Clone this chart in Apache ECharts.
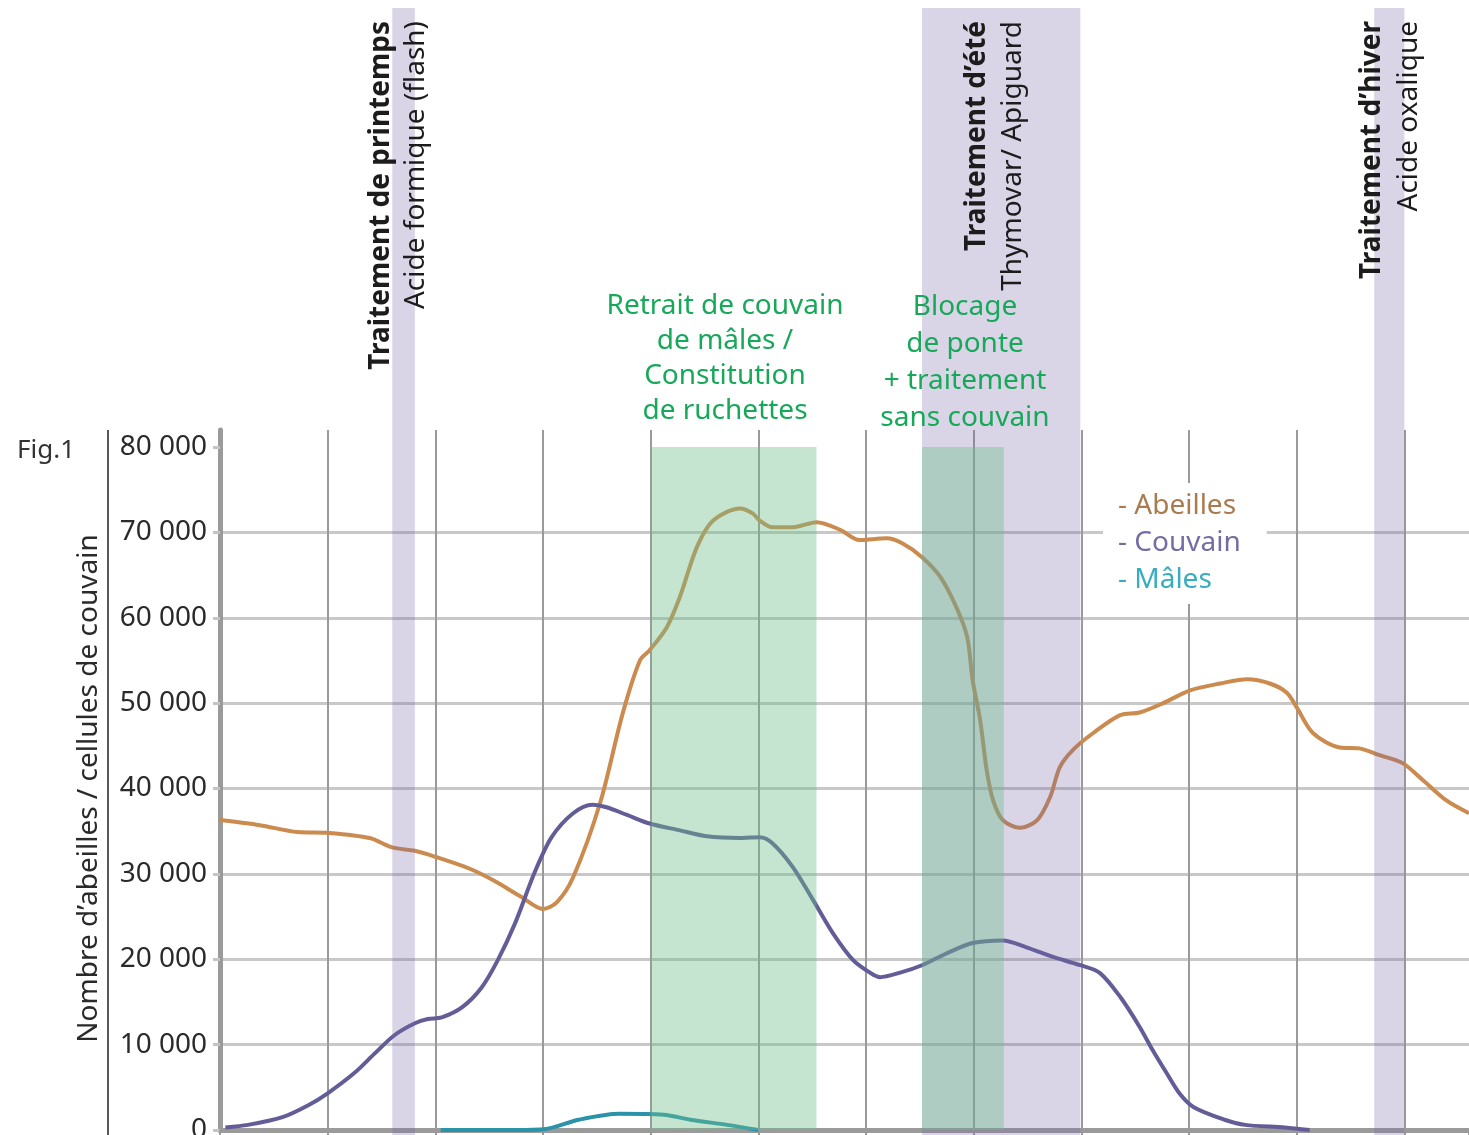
<!DOCTYPE html>
<html>
<head>
<meta charset="utf-8">
<script src="https://cdn.jsdelivr.net/npm/echarts@6/dist/echarts.min.js"></script>
<style>
html,body{margin:0;padding:0;background:#fff;}
#chart{width:1469px;height:1135px;}
</style>
</head>
<body>
<div id="chart"></div>
<script>
// ---------- DATA ----------
// x = position along the season (one unit = one vertical grid division)
const abeillesMois = [0.00,0.37,0.72,1.01,1.39,1.60,1.81,2.00,2.32,2.53,2.80,3.00,3.13,3.28,3.53,3.74,3.90,3.99,4.15,4.27,4.43,4.58,4.83,4.95,5.01,5.13,5.32,5.54,5.76,5.94,6.19,6.34,6.52,6.69,6.84,6.94,6.99,7.06,7.12,7.18,7.27,7.43,7.59,7.71,7.80,7.92,8.11,8.36,8.54,8.76,9.01,9.29,9.54,9.75,9.91,10.00,10.15,10.40,10.58,10.77,10.98,11.17,11.39,11.60];
const abeillesNombre = [36300,35700,34900,34800,34200,33100,32700,32000,30600,29300,27300,25900,26700,29600,38300,48800,55000,56200,58900,62400,68300,71400,72800,72200,71400,70600,70600,71200,70300,69100,69300,68700,67100,64800,61200,57700,52700,48000,42200,38600,36300,35400,36300,39000,42500,44500,46500,48600,48900,50000,51500,52300,52800,52300,51200,49500,46500,44800,44700,43900,43000,41000,38600,37100];

const couvainMois = [0.05,0.26,0.58,0.82,1.00,1.25,1.44,1.62,1.81,1.93,2.06,2.25,2.43,2.58,2.74,2.92,3.08,3.28,3.46,3.59,3.78,3.99,4.27,4.52,4.83,5.01,5.13,5.32,5.51,5.69,5.88,6.04,6.13,6.31,6.52,6.75,6.99,7.27,7.49,7.73,7.99,8.17,8.36,8.54,8.66,8.79,8.91,9.04,9.33,9.52,9.89,10.12];
const couvainNombre = [300,600,1500,2900,4300,6700,9000,11100,12500,13000,13200,14400,16700,19900,24200,30100,34300,37100,38100,37800,36900,35900,35100,34400,34200,34300,33600,30800,26900,23100,19900,18400,17900,18400,19300,20700,21900,22200,21400,20300,19300,18400,15600,12100,9400,6700,4300,2700,1200,600,300,0];

const malesMois = [2.05,2.60,3.01,3.33,3.71,4.12,4.37,4.71,5.00];
const malesNombre = [0,0,100,1200,1900,1800,1200,600,0];

const yMin = 0, yMax = 80000, yStep = 10000;
const xMin = 0, xMax = 11.6, xStep = 1;

const bandesTraitement = [[1.60,1.81],[6.52,7.99],[10.72,11.00]];
const bandesActions = [[4.00,5.54],[6.52,7.28]];

const seriesNoms = ['Abeilles','Couvain','Mâles'];
const traitementsTitres = ['Traitement de printemps','Traitement d\u2019été','Traitement d\u2019hiver'];
const traitementsProduits = ['Acide formique (flash)','Thymovar/ Apiguard','Acide oxalique'];
const actionsTextes = ['Retrait de couvain\nde mâles /\nConstitution\nde ruchettes','Blocage\nde ponte\n+ traitement\nsans couvain'];
const titreAxeY = 'Nombre d\u2019abeilles / cellules de couvain';
const figureLabel = 'Fig.1';

// ---------- STYLE ----------
const FONT = '"Noto Sans", "Open Sans", sans-serif';
const lineColors = ['#CB8A4E','#625D97','#2B93A7'];
const legendColors = ['#A97B4F','#766CA4','#37ADBF'];
const green = '#17A85A';

const zip = (xs, ys) => xs.map((x, i) => [x, ys[i]]);
const fmt = v => String(v).replace(/\B(?=(\d{3})+(?!\d))/g, ' ');

const chart = echarts.init(document.getElementById('chart'), null, {renderer: 'canvas'});

// rotated treatment labels (pixel layout)
const rotLabels = [
  {x: 381, text: traitementsTitres[0], bold: true},
  {x: 416, text: traitementsProduits[0], bold: false},
  {x: 977, text: traitementsTitres[1], bold: true},
  {x: 1013, text: traitementsProduits[1], bold: false},
  {x: 1372, text: traitementsTitres[2], bold: true},
  {x: 1409, text: traitementsProduits[2], bold: false}
];

const graphics = rotLabels.map(l => ({
  type: 'text', x: l.x, y: 21, rotation: Math.PI / 2, z: 100,
  style: {
    text: l.text, fill: '#1c1c1c',
    font: (l.bold ? 'bold ' : '') + '28px ' + FONT,
    textAlign: 'right', align: 'right', textVerticalAlign: 'middle', verticalAlign: 'middle'
  }
}));
graphics.push({
  type: 'text', x: 725, y: 359, z: 100,
  style: {text: actionsTextes[0], fill: green, font: '28px ' + FONT, lineHeight: 35,
    textAlign: 'center', align: 'center', textVerticalAlign: 'middle', verticalAlign: 'middle'}
});
graphics.push({
  type: 'text', x: 965, y: 363, z: 100,
  style: {text: actionsTextes[1], fill: green, font: '28px ' + FONT, lineHeight: 37,
    textAlign: 'center', align: 'center', textVerticalAlign: 'middle', verticalAlign: 'middle'}
});
graphics.push({
  type: 'text', x: 17, y: 451, z: 100,
  style: {text: figureLabel, fill: '#333', font: '26px ' + FONT,
    textAlign: 'left', align: 'left', textVerticalAlign: 'middle', verticalAlign: 'middle'}
});
graphics.push({
  type: 'line', z: 100,
  shape: {x1: 108, y1: 430, x2: 108, y2: 1135},
  style: {stroke: '#222', lineWidth: 1.5}
});

const curveSeries = [
  zip(abeillesMois, abeillesNombre),
  zip(couvainMois, couvainNombre),
  zip(malesMois, malesNombre)
].map((d, i) => ({
  name: seriesNoms[i], type: 'line', xAxisIndex: 0, yAxisIndex: 0,
  data: d, smooth: 0.3, symbol: 'none', showSymbol: false, z: 3,
  lineStyle: {color: lineColors[i], width: 4},
  itemStyle: {color: lineColors[i]}
}));

const option = {
  animation: false,
  backgroundColor: '#fff',
  grid: [
    {left: 220, right: 0, top: 447, bottom: 5, outerBoundsMode: 'none', containLabel: false},
    {left: 220, right: 0, top: 430, bottom: 5, outerBoundsMode: 'none', containLabel: false},
    {left: 220, right: 0, top: 8, bottom: 0, outerBoundsMode: 'none', containLabel: false}
  ],
  xAxis: [
    {gridIndex: 0, type: 'value', min: xMin, max: xMax, interval: xStep, show: false},
    {gridIndex: 1, type: 'value', min: xMin, max: xMax, interval: xStep,
      axisLine: {show: true, onZero: false, lineStyle: {color: '#9a9a9a', width: 5}},
      axisTick: {show: true, length: 6, lineStyle: {color: '#9a9a9a', width: 2}},
      axisLabel: {show: false},
      splitLine: {show: true, showMinLine: false, showMaxLine: false, lineStyle: {color: '#9a9a9a', width: 2}}},
    {gridIndex: 2, type: 'value', min: xMin, max: xMax, show: false}
  ],
  yAxis: [
    {gridIndex: 0, type: 'value', min: yMin, max: yMax, interval: yStep,
      axisLine: {show: false},
      axisTick: {show: true, length: 7, lineStyle: {color: '#c4c4c4', width: 3}},
      axisLabel: {fontFamily: FONT, fontSize: 28, color: '#2a2a2a', margin: 13, formatter: fmt},
      splitLine: {show: true, showMinLine: false, showMaxLine: false, lineStyle: {color: '#c8c8c8', width: 3}},
      name: titreAxeY, nameLocation: 'middle', nameRotate: 90, nameGap: 117,
      nameTextStyle: {fontFamily: FONT, fontSize: 28, color: '#2a2a2a'}},
    {gridIndex: 1, type: 'value', min: 0, max: 1,
      axisLine: {show: true, onZero: false, lineStyle: {color: '#9a9a9a', width: 5}},
      axisTick: {show: false}, axisLabel: {show: false}, splitLine: {show: false}},
    {gridIndex: 2, type: 'value', min: 0, max: 1, show: false}
  ],
  legend: {
    orient: 'vertical', left: 1103, top: 483,
    padding: [9, 26, 10, 10], itemGap: 9, itemWidth: 0, itemHeight: 0,
    icon: 'none', backgroundColor: '#fff', selectedMode: false,
    formatter: n => '- ' + n,
    textStyle: {fontFamily: FONT, fontSize: 28},
    data: seriesNoms.map((n, i) => ({name: n, icon: 'none', textStyle: {color: legendColors[i]}}))
  },
  graphic: graphics,
  series: curveSeries.concat([
    {name: 'bandesTraitement', type: 'line', xAxisIndex: 2, yAxisIndex: 2, data: [], z: 5,
      markArea: {silent: true, z: 5, itemStyle: {color: 'rgba(120,105,165,0.28)'},
        data: bandesTraitement.map(b => [{xAxis: b[0]}, {xAxis: b[1]}])}},
    {name: 'bandesActions', type: 'line', xAxisIndex: 0, yAxisIndex: 0, data: [], z: 6,
      markArea: {silent: true, z: 6, itemStyle: {color: 'rgba(110,190,140,0.4)'},
        data: bandesActions.map(b => [{xAxis: b[0], yAxis: yMin}, {xAxis: b[1], yAxis: yMax}])}}
  ])
};
chart.setOption(option);
</script>
</body>
</html>
